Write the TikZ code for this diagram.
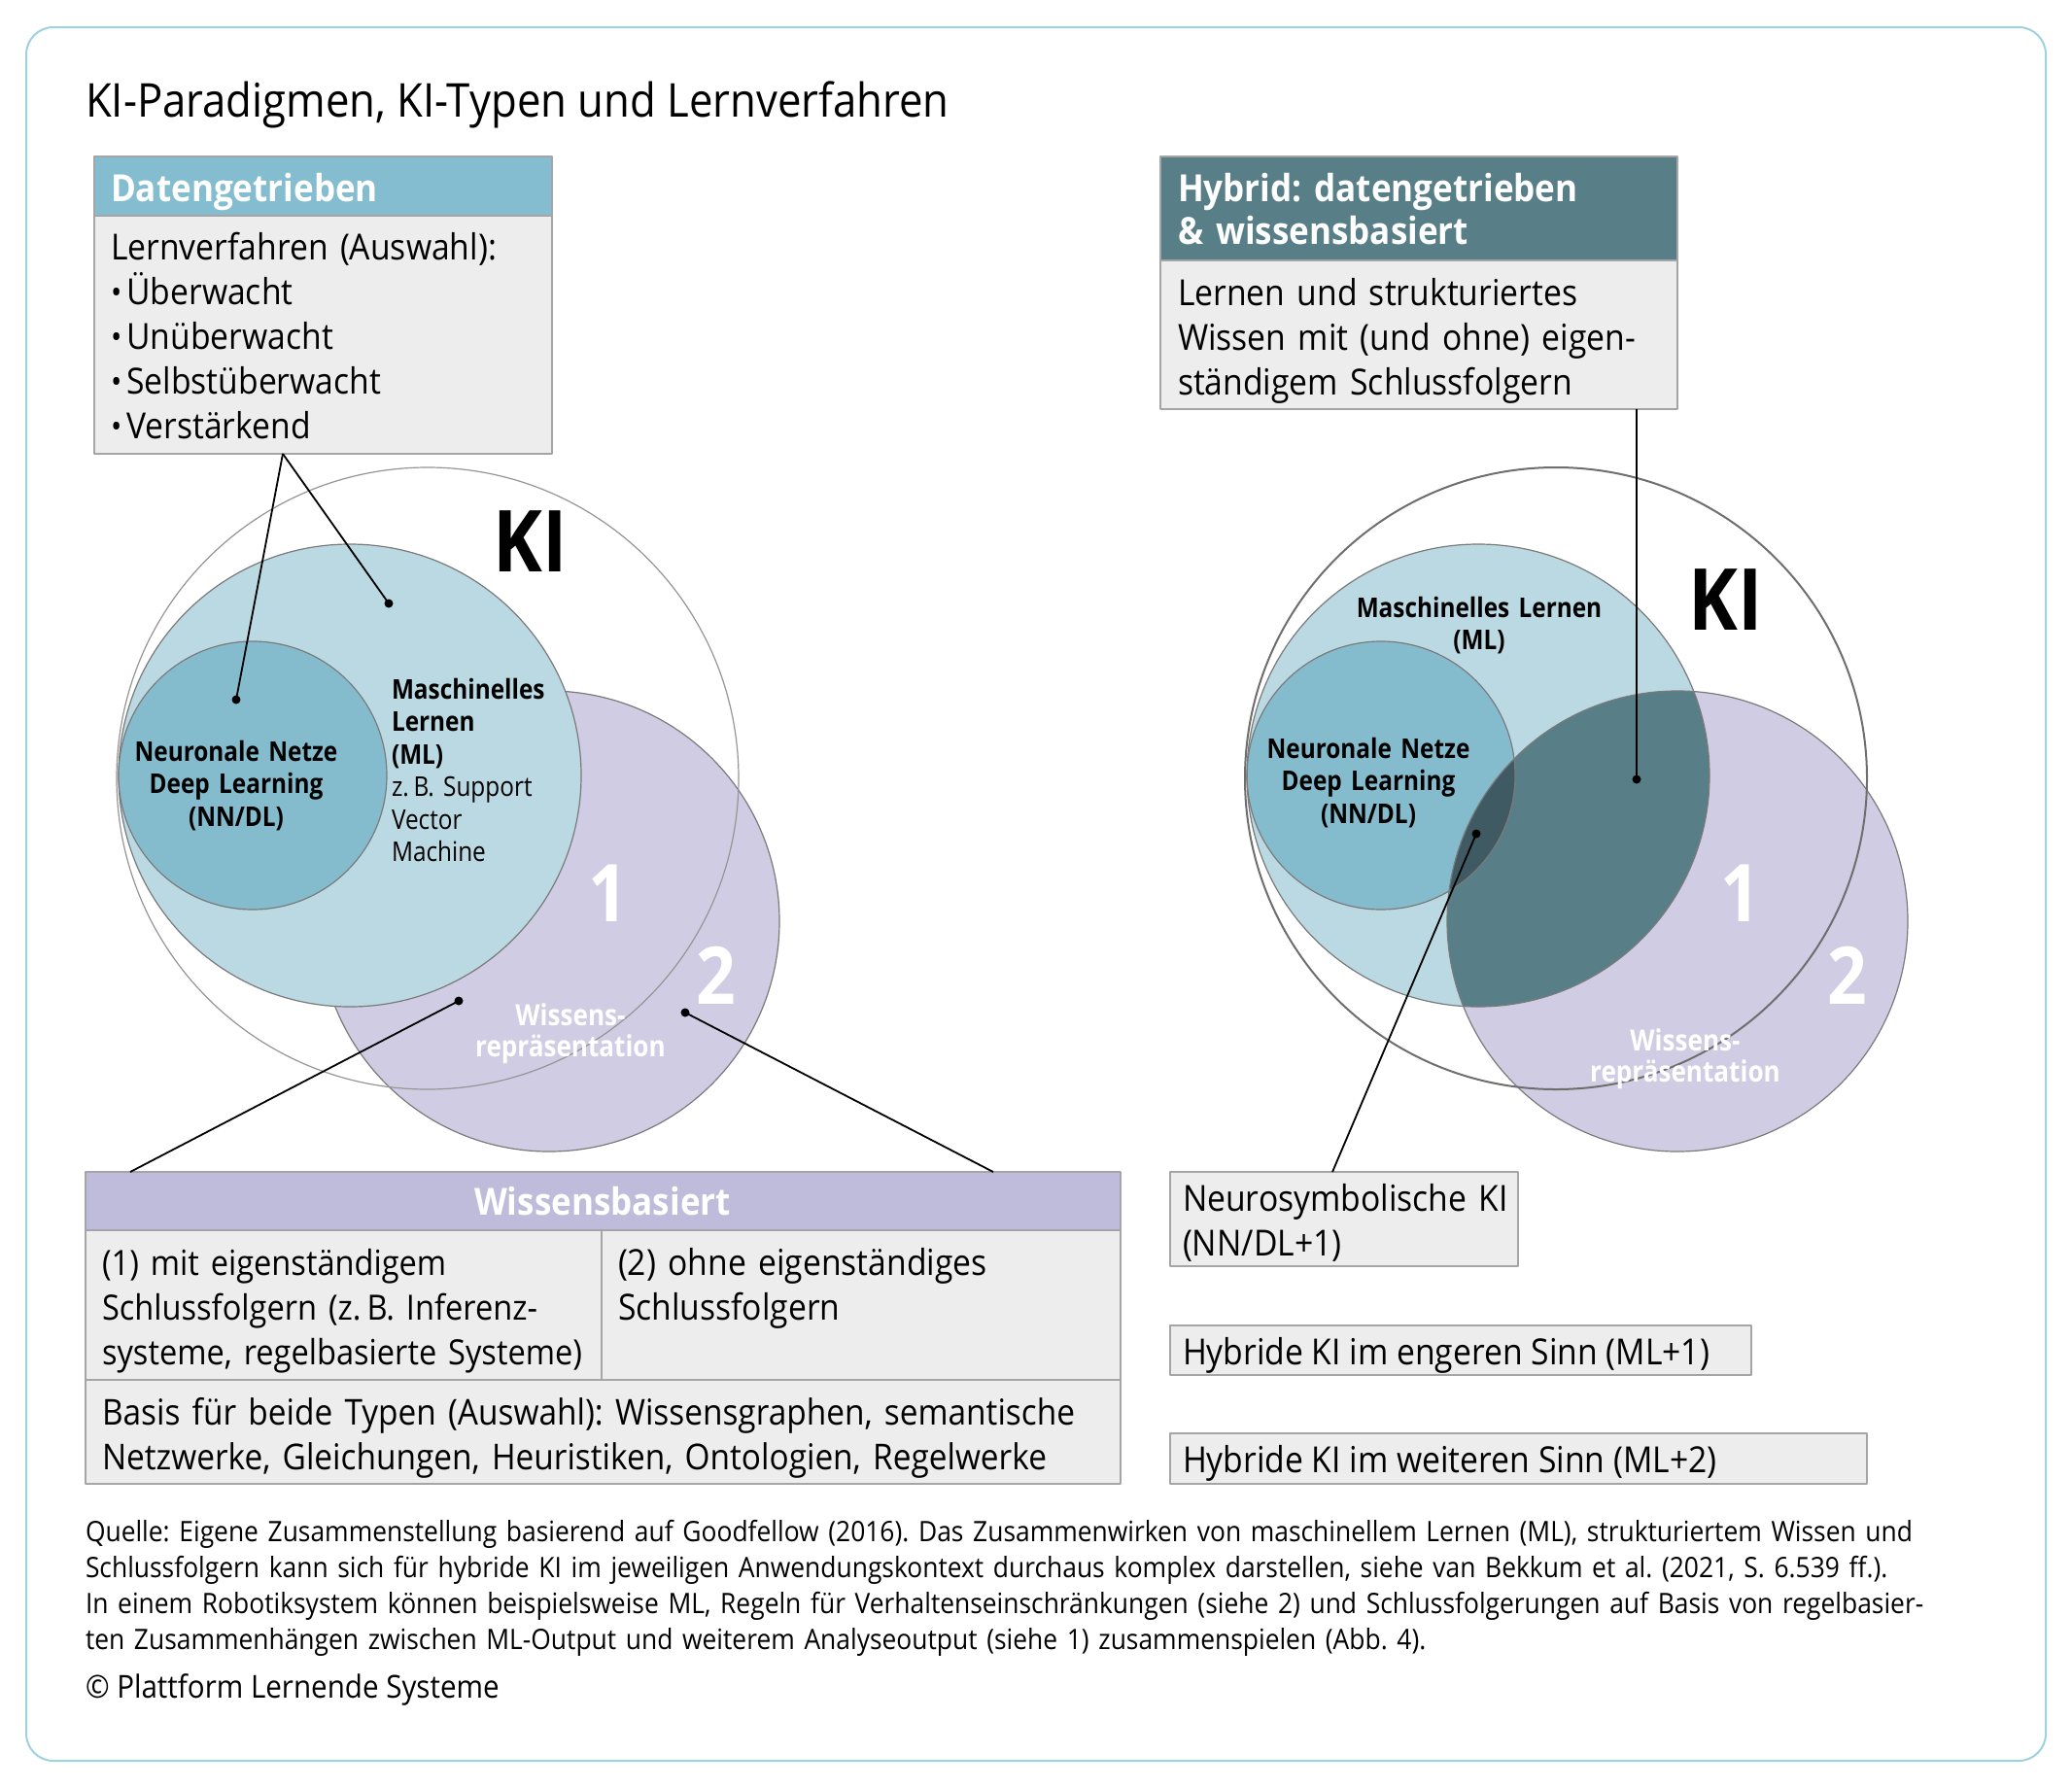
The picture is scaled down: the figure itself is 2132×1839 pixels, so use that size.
\documentclass[tikz,border=0pt]{standalone}
\usepackage{fontspec}
\setmainfont{Open Sans}[FakeStretch=0.91]
\newfontfamily\condfont{Open Sans}[FakeStretch=0.87]
\usetikzlibrary{calc}
\frenchspacing
\hyphenpenalty=10000
\definecolor{framecol}{HTML}{9DD2DF}
\definecolor{dtblue}{HTML}{83BDCF}
\definecolor{nncol}{HTML}{84BCCE}
\definecolor{mlcol}{HTML}{BAD9E2}
\definecolor{wrcol}{HTML}{D0CCE3}
\definecolor{wbhead}{HTML}{BFBBDB}
\definecolor{hyhead}{HTML}{587F88}
\definecolor{hydark}{HTML}{3F5A62}
\definecolor{boxfill}{HTML}{EDEDED}
\definecolor{boxline}{HTML}{A5A5A5}
\definecolor{circline}{HTML}{7A7A7A}
\newcommand{\bul}{{\fontsize{33}{33}\selectfont\raisebox{1pt}{\textbullet}}\hspace{5pt}}
\tikzset{
  pane/.style={draw=boxline, line width=1.6pt, fill=boxfill, anchor=north west, inner sep=0, outer sep=0},
  txt/.style={inner sep=0, outer sep=0, anchor=base west, font=\fontsize{37}{46}\selectfont, align=left},
  headtxt/.style={txt, text=white, font=\fontsize{38.5}{44}\selectfont\bfseries},
  circlab/.style={inner sep=0, outer sep=0, anchor=base, align=center, font=\condfont\fontsize{28}{33.5}\selectfont\bfseries},
  wrlab/.style={circlab, text=white, font=\condfont\fontsize{30}{32.5}\selectfont\bfseries},
  bignum/.style={inner sep=0, outer sep=0, anchor=center, text=white, font=\condfont\fontsize{82}{90}\selectfont\bfseries},
  kilab/.style={inner sep=0, outer sep=0, anchor=base, font=\condfont\fontsize{88}{96}\selectfont\bfseries},
  conn/.style={line width=1.8pt, black},
  dot/.style={circle, fill=black, inner sep=0, minimum size=9pt},
  circ/.style={draw=circline, line width=1.2pt},
}
\begin{document}
\begin{tikzpicture}[x=1pt,y=-1pt, line join=round]
\useasboundingbox (0,0) rectangle (2132,1839);
\draw[framecol, line width=2pt, rounded corners=28pt] (27,28) rectangle (2105,1812);

% title
\node[txt, font=\fontsize{48}{54}\selectfont] (title) at (88,120) {KI-Paradigmen, KI-Typen und Lernverfahren};

% ---------- left diagram ----------
\fill[white] (440,801) circle (320);
\path[circ, fill=wrcol] (565,948) circle (237);
\path[circ, fill=mlcol] (360,798) circle (238);
\path[circ, fill=nncol] (260,798) circle (138);
\draw[circ, draw=circline!80] (440,801) circle (320);

\node[kilab] (kiL) at (546,588) {KI};
\node[circlab, anchor=base west, align=left, text width=200pt] (mlL) at (403,719)
  {Maschinelles\\Lernen\\(ML)\\\mdseries z.\,B. Support\\\mdseries Vector\\\mdseries Machine};
\node[circlab, text width=260pt] (nnL) at (243,783) {Neuronale Netze\\Deep Learning\\(NN/DL)};
\node[bignum] (oneL) at (626,919) {1};
\node[bignum] (twoL) at (737,1004) {2};
\node[wrlab, text width=240pt] (wrL) at (587,1055) {Wissens-\\repräsentation};

% Datengetrieben box
\node[pane, minimum width=471pt, minimum height=245pt] (dtbody) at (97,222) {};
\node[pane, fill=dtblue, minimum width=471pt, minimum height=61pt] (dthead) at (97,161) {};
\node[headtxt] (dthtxt) at (114,207) {Datengetrieben};
\node[txt, text width=440pt] (dttxt) at (114,267)
  {Lernverfahren (Auswahl):\\
   \bul Überwacht\\
   \bul Unüberwacht\\
   \bul Selbstüberwacht\\
   \bul Verstärkend};

\coordinate (dtfork) at (291,467);
\node[dot] (dNN) at (243,720) {};
\node[dot] (dML) at (400,621) {};
\draw[conn] (dtfork) -- (dNN.center);
\draw[conn] (dtfork) -- (dML.center);

% Wissensbasiert box
\node[pane, minimum width=1065pt, minimum height=60pt, fill=wbhead] (wbhead) at (88,1206) {};
\node[pane, minimum width=531pt, minimum height=154pt] (wbc1) at (88,1266) {};
\node[pane, minimum width=534pt, minimum height=154pt] (wbc2) at (619,1266) {};
\node[pane, minimum width=1065pt, minimum height=107pt] (wbbase) at (88,1420) {};
\node[headtxt, anchor=base] (wbhtxt) at (620,1250) {Wissensbasiert};
\node[txt, text width=600pt, font=\fontsize{35.8}{46}\selectfont] (wbt1) at (105,1312)
  {(1) mit eigenständigem\\Schlussfolgern (z.\,B. Inferenz-\\systeme, regelbasierte Systeme)};
\node[txt, text width=510pt] (wbt2) at (636,1312)
  {(2) ohne eigenständiges\\Schlussfolgern};
\node[txt, text width=1100pt, font=\fontsize{36.7}{46}\selectfont] (wbt3) at (105,1466)
  {Basis für beide Typen (Auswahl): Wissensgraphen, semantische\\Netzwerke, Gleichungen, Heuristiken, Ontologien, Regelwerke};

\node[dot] (dW1) at (472,1030) {};
\node[dot] (dW2) at (705,1042) {};
\coordinate (wbL) at (134,1206);
\coordinate (wbR) at (1022,1206);
\draw[conn] (dW1.center) -- (wbL);
\draw[conn] (dW2.center) -- (wbR);

% ---------- right diagram ----------
\fill[white] (1601,801) circle (320);
\fill[wrcol] (1726,948) circle (237);
\fill[mlcol] (1521,798) circle (238);
\fill[nncol] (1421,798) circle (138);
\begin{scope}
  \clip (1726,948) circle (237);
  \fill[hyhead] (1521,798) circle (238);
  \fill[hydark] (1421,798) circle (138);
\end{scope}
\draw[circ] (1726,948) circle (237);
\draw[circ] (1521,798) circle (238);
\draw[circ] (1421,798) circle (138);
\draw[circ, line width=2pt, draw=circline!90!black] (1601,801) circle (320);

\node[kilab] (kiR) at (1776,648) {KI};
\node[circlab, text width=300pt] (mlR) at (1522,635) {Maschinelles Lernen\\(ML)};
\node[circlab, text width=260pt] (nnR) at (1408,780) {Neuronale Netze\\Deep Learning\\(NN/DL)};
\node[bignum] (oneR) at (1791,919) {1};
\node[bignum] (twoR) at (1901,1004) {2};
\node[wrlab, text width=240pt] (wrR) at (1734,1081) {Wissens-\\repräsentation};

% Hybrid box
\node[pane, minimum width=532pt, minimum height=153pt] (hybody) at (1194,268) {};
\node[pane, fill=hyhead, minimum width=532pt, minimum height=107pt] (hyhead) at (1194,161) {};
\node[headtxt, text width=500pt] (hyhtxt) at (1212,207) {Hybrid: datengetrieben\\\& wissensbasiert};
\node[txt, text width=510pt] (hytxt) at (1212,314)
  {Lernen und strukturiertes\\Wissen mit (und ohne) eigen-\\ständigem Schlussfolgern};

\node[dot] (dHy) at (1684,802) {};
\draw[conn] (1684,421) -- (dHy.center);
\node[dot] (dNS) at (1519,858) {};

% right boxes
\node[pane, minimum width=358pt, minimum height=97pt] (nsbox) at (1204,1206) {};
\node[txt, text width=340pt] (nstxt) at (1217,1246) {Neurosymbolische KI\\(NN/DL+1)};
\node[pane, minimum width=598pt, minimum height=51pt] (engbox) at (1204,1364) {};
\node[txt] (engtxt) at (1217,1404) {Hybride KI im engeren Sinn (ML+1)};
\node[pane, minimum width=717pt, minimum height=52pt] (weibox) at (1204,1475) {};
\node[txt] (weitxt) at (1217,1515) {Hybride KI im weiteren Sinn (ML+2)};
\draw[conn] (dNS.center) -- (nsbox.north west -| 1371,0);

% caption
\node[txt, text width=1990pt, font=\fontsize{29}{37}\selectfont] (caption) at (88,1586)
  {Quelle: Eigene Zusammenstellung basierend auf Goodfellow (2016). Das Zusammenwirken von maschinellem Lernen (ML), strukturiertem Wissen und\\
   Schlussfolgern kann sich für hybride KI im jeweiligen Anwendungskontext durchaus komplex darstellen, siehe van Bekkum et al. (2021, S. 6.539 ff.).\\
   In einem Robotiksystem können beispielsweise ML, Regeln für Verhaltenseinschränkungen (siehe 2) und Schlussfolgerungen auf Basis von regelbasier-\\
   ten Zusammenhängen zwischen ML-Output und weiterem Analyseoutput (siehe 1) zusammenspielen (Abb. 4).};
\node[txt, font=\fontsize{32.5}{38}\selectfont] (copy) at (88,1747) {© Plattform Lernende Systeme};
\end{tikzpicture}
\end{document}
